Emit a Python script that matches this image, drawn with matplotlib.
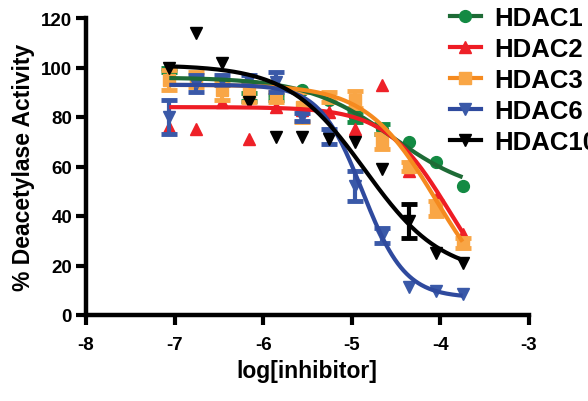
import matplotlib
matplotlib.use("Agg")
import matplotlib.pyplot as plt
from matplotlib.lines import Line2D
import numpy as np

plt.rcParams['font.family'] = ['Liberation Sans', 'DejaVu Sans']
plt.rcParams['font.weight'] = 'bold'
plt.rcParams['axes.unicode_minus'] = False

# log[inhibitor] for each dilution (2-fold steps)
log_conc = [-7.06, -6.76, -6.46, -6.16, -5.86, -5.56, -5.26, -4.96, -4.66, -4.35, -4.05, -3.75]

# % deacetylase activity
hdac1 = [99, 95, 94, 88, 88, 91, 87, 80, 75, 69.7, 62, 52]
hdac2 = [76, 75, 86, 71, 84, 83, 82, 75, 93, 58, 47, 32.6]
hdac3 = [95, 95, 91, 90, 88, 84, 88, 87, 70, 60, 43, 29]
hdac6 = [80, 93.5, 95, 95, 94, 80, 72, 52, 32, 11.5, 9.5, 8.5]
hdac10 = [100, 114, 102, 86, 72, 72, 71, 70, 59, 38, 25, 21]

# error bars (SEM); 0 where none is drawn
hdac1_err = [1, 0, 0, 1.5, 1, 0, 0, 2, 2, 0, 0, 0]
hdac2_err = [0, 0, 0, 0, 0, 0, 0, 0, 0, 0, 0, 0]
hdac3_err = [4, 3, 4, 4, 2, 6, 2, 3.5, 3, 2, 3, 2]
hdac6_err = [7, 3.5, 2, 2, 4, 1.5, 3, 6, 3, 0, 0, 0]
hdac10_err = [0, 0, 0, 0, 0, 0, 0, 0, 0, 7, 0, 0]

# fitted dose-response curves: top, bottom, logIC50, hill slope
fit_hdac1 = [96, 48, -4.55, 0.9]
fit_hdac2 = [84, 0, -3.9, 1.2]
fit_hdac3 = [93, 0, -4.05, 1.1]
fit_hdac6 = [93, 7, -4.88, 1.8]
fit_hdac10 = [101, 16, -4.85, 1.0]

labels = ['HDAC1', 'HDAC2', 'HDAC3', 'HDAC6', 'HDAC10']
series = [hdac1, hdac2, hdac3, hdac6, hdac10]
errors = [hdac1_err, hdac2_err, hdac3_err, hdac6_err, hdac10_err]
fits = [fit_hdac1, fit_hdac2, fit_hdac3, fit_hdac6, fit_hdac10]
markers = ['o', '^', 's', 'v', 'v']
point_colors = ['#138a43', '#ee2128', '#f9a646', '#3a59a8', '#000000']
line_colors = ['#1e6b36', '#ee1c24', '#f58a1f', '#2f4a9e', '#000000']
marker_sizes = [8.5, 8.5, 8, 9, 9]


def dose_response(x, top, bottom, logic50, hill):
    return bottom + (top - bottom) / (1 + 10 ** ((x - logic50) * hill))


fig = plt.figure(figsize=(5.88, 4.02), dpi=100)
ax = fig.add_axes([86 / 588, 86 / 402, 443 / 588, 297 / 402])

x = np.array(log_conc)
for y, err, m, pc, ms in zip(series, errors, markers, point_colors, marker_sizes):
    y = np.array(y)
    err = np.array(err)
    ax.plot(x, y, m, color=pc, ms=ms, mec=pc, zorder=2)
    has_err = err > 0
    if has_err.any():
        ax.errorbar(x[has_err], y[has_err], yerr=err[has_err], fmt='none',
                    ecolor=pc, elinewidth=3, capsize=5.5, capthick=3.5, zorder=2)

xs = np.linspace(x.min(), x.max(), 300)
for p, lc in zip(fits, line_colors):
    ax.plot(xs, dose_response(xs, *p), color=lc, lw=3, zorder=3,
            solid_capstyle='butt')

ax.set_xlim(-8, -3)
ax.set_ylim(0, 120)
ax.set_xticks(range(-8, -2))
ax.set_yticks(range(0, 121, 20))
for side in ['top', 'right']:
    ax.spines[side].set_visible(False)
for side in ['left', 'bottom']:
    ax.spines[side].set_linewidth(3.2)
ax.tick_params(width=3, labelsize=13.5)
ax.tick_params(axis='x', length=7, pad=8)
ax.tick_params(axis='y', length=7, pad=3)
for t in ax.get_xticklabels() + ax.get_yticklabels():
    t.set_fontweight('bold')

fig.text(24 / 588, 1 - 167 / 402, '% Deacetylase Activity', rotation=90,
         ha='center', va='center', fontsize=16.5, fontweight='bold')
fig.text(307 / 588, 1 - 372 / 402, 'log[inhibitor]',
         ha='center', va='center', fontsize=16.5, fontweight='bold')

handles = [Line2D([], [], color=lc, lw=3, marker=m, ms=ms, mfc=pc, mec=pc)
           for lc, m, ms, pc in zip(line_colors, markers, marker_sizes, point_colors)]
fig.legend(handles, labels, loc='upper left', bbox_to_anchor=(450 / 588, 1 - 7 / 402),
           frameon=False, borderpad=0, borderaxespad=0, handlelength=1.2,
           handletextpad=0.52, labelspacing=0.27,
           prop={'size': 18.5, 'weight': 'bold'})

fig.savefig('out.png', dpi=100)
